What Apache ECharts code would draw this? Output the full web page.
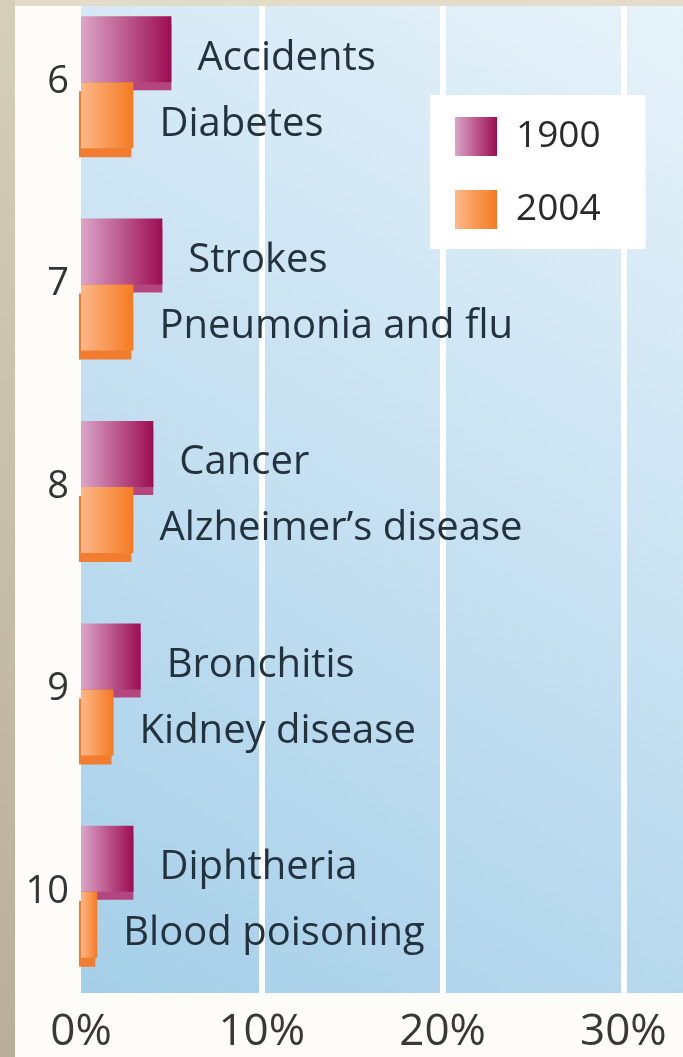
<!DOCTYPE html>
<html>
<head>
<meta charset="utf-8">
<style>
    html, body { margin: 0; padding: 0; background: #fdfcf8; overflow: hidden; }
    /* chart is shifted up so the first band can start above the page edge */
    #main { width: 683px; height: 1076px; margin-top: -19px; }
</style>
<script src="https://cdn.jsdelivr.net/npm/echarts@6/dist/echarts.min.js"></script>
</head>
<body>
<div id="main"></div>
<script>
// rank of the cause of death
var ranks = ['6', '7', '8', '9', '10'];
// cause names per year
var causes1900 = ['Accidents', 'Strokes', 'Cancer', 'Bronchitis', 'Diphtheria'];
var causes2004 = ['Diabetes', 'Pneumonia and flu', 'Alzheimer\u2019s disease', 'Kidney disease', 'Blood poisoning'];
// share of deaths, %
var values1900 = [5.0, 4.5, 4.0, 3.3, 2.9];
var values2004 = [2.9, 2.9, 2.9, 1.8, 0.9];
var xTicks = [0, 10, 20, 30];

var FONT = '"Open Sans", sans-serif';
var SHIFT = 19;
var chart = echarts.init(document.getElementById('main'));

function grad(c0, c1) {
    return new echarts.graphic.LinearGradient(0, 0, 1, 0, [
        { offset: 0, color: c0 },
        { offset: 1, color: c1 }
    ]);
}

function barLabel(names) {
    return {
        show: true,
        position: 'right',
        distance: 26,
        offset: [0, 9],
        fontFamily: FONT,
        fontSize: 40,
        color: '#24323d',
        formatter: function (p) { return names[p.dataIndex]; }
    };
}

var option = {
    animation: false,
    backgroundColor: '#fdfcf8',
    grid: {
        left: 81,
        right: 0,
        top: 0,
        height: 1012,
        show: true,
        borderWidth: 0,
        backgroundColor: new echarts.graphic.LinearGradient(0, 1, 1, 0, [
            { offset: 0, color: '#a5cfe9' },
            { offset: 1, color: '#e8f3fa' }
        ])
    },
    legend: {
        data: ['1900', '2004'],
        orient: 'vertical',
        left: 430,
        top: 95 + SHIFT,
        backgroundColor: '#ffffff',
        padding: [22, 45, 20, 25],
        itemWidth: 42,
        itemHeight: 39,
        itemGap: 34,
        icon: 'rect',
        itemStyle: { shadowColor: 'rgba(0,0,0,0)', shadowOffsetX: 0, shadowOffsetY: 0 },
        textStyle: { fontFamily: FONT, fontSize: 37, color: '#2a2a2a', padding: [0, 0, 0, 14] }
    },
    xAxis: {
        type: 'value',
        min: 0,
        max: 33.3,
        interval: 10,
        axisLine: { show: false },
        axisTick: { show: false },
        axisLabel: {
            margin: 17,
            fontFamily: FONT,
            fontSize: 44,
            color: '#3b3834',
            showMaxLabel: false,
            formatter: function (v) { return xTicks.indexOf(v) >= 0 ? v + '%' : ''; }
        },
        splitLine: {
            show: true,
            showMinLine: false,
            showMaxLine: false,
            lineStyle: { color: '#ffffff', width: 6 }
        }
    },
    yAxis: {
        type: 'category',
        data: ranks,
        inverse: true,
        axisLine: { show: false },
        axisTick: { show: false },
        axisLabel: { margin: 12, padding: [10, 0, 0, 0], fontFamily: FONT, fontSize: 38, color: '#333333' }
    },
    series: [
        {
            name: '1900',
            type: 'bar',
            data: values1900,
            barWidth: 66,
            barGap: '0%',
            itemStyle: {
                color: grad('#dba6c8', '#9c0d52'),
                shadowColor: '#b4467f',
                shadowOffsetX: 0,
                shadowOffsetY: 8,
                shadowBlur: 0
            },
            label: barLabel(causes1900)
        },
        {
            name: '2004',
            type: 'bar',
            data: values2004,
            barWidth: 66,
            barGap: '0%',
            itemStyle: {
                color: grad('#fcb88a', '#f47a22'),
                shadowColor: '#f27c30',
                shadowOffsetX: -2,
                shadowOffsetY: 9,
                shadowBlur: 0
            },
            label: barLabel(causes2004)
        }
    ],
    graphic: [
        { type: 'rect', z: 100, shape: { x: 0, y: 0, width: 683, height: 6 + SHIFT }, style: { fill: '#e2dcc8' } },
        { type: 'rect', z: 100, shape: { x: 0, y: 0, width: 15, height: 1076 },
          style: { fill: new echarts.graphic.LinearGradient(0, 0, 0, 1, [
              { offset: 0, color: '#d6cfba' },
              { offset: 1, color: '#b9ae99' }
          ]) } }
    ]
};

chart.setOption(option);
</script>
</body>
</html>
